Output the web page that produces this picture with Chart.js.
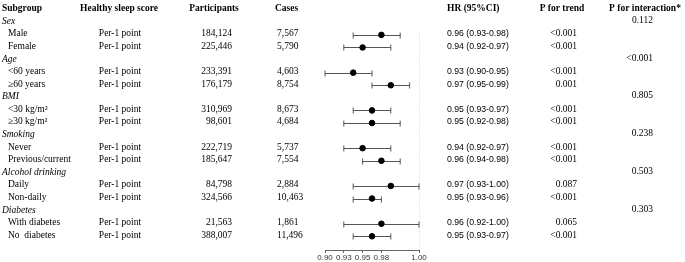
<!DOCTYPE html>
<html>
<head>
<meta charset="utf-8">
<script src="https://cdn.jsdelivr.net/npm/chart.js@4.4.1/dist/chart.umd.min.js"></script>
<style>
    body { margin: 0; background: #fff; }
    #wrap { width: 685px; height: 262px; }
</style>
</head>
<body>
<div id="wrap"><canvas id="forest" width="685" height="262"></canvas></div>
<script>
// dados
var grupos = ['Sex', 'Age', 'BMI', 'Smoking', 'Alcohol drinking', 'Diabetes'];
var pInteracao = ['0.112', '<0.001', '0.805', '0.238', '0.503', '0.303'];

var subgrupos = ['Male', 'Female', '<60 years', '≥60 years', '<30 kg/m²', '≥30 kg/m²',
    'Never', 'Previous/current', 'Daily', 'Non-daily', 'With diabetes', 'No  diabetes'];
var grupoDoSubgrupo = [0, 0, 1, 1, 2, 2, 3, 3, 4, 4, 5, 5];
var escore = ['Per-1 point', 'Per-1 point', 'Per-1 point', 'Per-1 point', 'Per-1 point', 'Per-1 point',
    'Per-1 point', 'Per-1 point', 'Per-1 point', 'Per-1 point', 'Per-1 point', 'Per-1 point'];
var participantes = ['184,124', '225,446', '233,391', '176,179', '310,969', '98,601',
    '222,719', '185,647', '84,798', '324,566', '21,563', '388,007'];
var casos = ['7,567', '5,790', '4,603', '8,754', '8,673', '4,684',
    '5,737', '7,554', '2,884', '10,463', '1,861', '11,496'];
var hr = [0.96, 0.94, 0.93, 0.97, 0.95, 0.95, 0.94, 0.96, 0.97, 0.95, 0.96, 0.95];
var icInferior = [0.93, 0.92, 0.90, 0.95, 0.93, 0.92, 0.92, 0.94, 0.93, 0.93, 0.92, 0.93];
var icSuperior = [0.98, 0.97, 0.95, 0.99, 0.97, 0.98, 0.97, 0.98, 1.00, 0.96, 1.00, 0.97];
var hrTexto = ['0.96 (0.93-0.98)', '0.94 (0.92-0.97)', '0.93 (0.90-0.95)', '0.97 (0.95-0.99)',
    '0.95 (0.93-0.97)', '0.95 (0.92-0.98)', '0.94 (0.92-0.97)', '0.96 (0.94-0.98)',
    '0.97 (0.93-1.00)', '0.95 (0.93-0.96)', '0.96 (0.92-1.00)', '0.95 (0.93-0.97)'];
var pTendencia = ['<0.001', '<0.001', '<0.001', '0.001', '<0.001', '<0.001',
    '<0.001', '<0.001', '0.087', '<0.001', '0.065', '<0.001'];

var ticksValores = [0.90, 0.92, 0.94, 0.96, 1.00];
var ticksRotulos = ['0.90', '0.93', '0.95', '0.98', '1.00'];

// linha de cada grupo / subgrupo na tabela (linha 0 = cabecalho)
var linhaGrupo = [];
var linhaSub = [];
var linha = 1;
for (var g = 0; g < grupos.length; g++) {
    linhaGrupo.push(linha);
    linha++;
    for (var s = 0; s < subgrupos.length; s++) {
        if (grupoDoSubgrupo[s] == g) {
            linhaSub.push(linha);
            linha++;
        }
    }
}

var serif = '"Liberation Serif", "Times New Roman", serif';
var sans = '"Liberation Sans", Arial, sans-serif';

function escrever(ctx, texto, x, y, alinhamento) {
    ctx.textAlign = alinhamento;
    ctx.fillText(texto, x, y);
}

var barrasErro = {
    id: 'barrasErro',
    beforeDatasetsDraw: function (chart) {
        var ctx = chart.ctx;
        var x = chart.scales.x;
        var y = chart.scales.y;
        ctx.save();

        // linha de referencia em HR = 1
        var xRef = Math.round(x.getPixelForValue(1.0)) + 0.5;
        ctx.strokeStyle = '#d4d4d4';
        ctx.lineWidth = 1;
        ctx.setLineDash([1, 2]);
        ctx.beginPath();
        ctx.moveTo(xRef, y.getPixelForValue(1.9));
        ctx.lineTo(xRef, chart.chartArea.bottom);
        ctx.stroke();
        ctx.setLineDash([]);

        ctx.strokeStyle = '#555';
        for (var i = 0; i < hr.length; i++) {
            var x1 = x.getPixelForValue(icInferior[i]);
            var x2 = x.getPixelForValue(icSuperior[i]);
            var yy = Math.round(y.getPixelForValue(linhaSub[i]) + 1) + 0.5;
            ctx.beginPath();
            ctx.moveTo(x1, yy);
            ctx.lineTo(x2, yy);
            ctx.moveTo(x1, yy - 3);
            ctx.lineTo(x1, yy + 3);
            ctx.moveTo(x2, yy - 3);
            ctx.lineTo(x2, yy + 3);
            ctx.stroke();
        }
        ctx.restore();
    }
};

var textoTabela = {
    id: 'textoTabela',
    afterDraw: function (chart) {
        var ctx = chart.ctx;
        var y = chart.scales.y;
        ctx.save();
        ctx.textBaseline = 'middle';
        ctx.fillStyle = '#000';

        var yCab = y.getPixelForValue(0);
        ctx.font = 'bold 9.5px ' + serif;
        escrever(ctx, 'Subgroup', 2, yCab, 'left');
        escrever(ctx, 'Healthy sleep score', 119, yCab, 'center');
        escrever(ctx, 'Participants', 214, yCab, 'center');
        escrever(ctx, 'Cases', 275, yCab, 'left');
        escrever(ctx, 'HR (95%CI)', 447, yCab, 'left');
        escrever(ctx, 'P for trend', 562, yCab, 'center');
        escrever(ctx, 'P for interaction*', 645, yCab, 'center');

        for (var g = 0; g < grupos.length; g++) {
            var yg = y.getPixelForValue(linhaGrupo[g]);
            ctx.font = 'italic 9.5px ' + serif;
            escrever(ctx, grupos[g], 2, yg, 'left');
            ctx.font = '9.5px ' + serif;
            escrever(ctx, pInteracao[g], 653, yg - 1, 'right');
        }

        for (var i = 0; i < subgrupos.length; i++) {
            var ys = y.getPixelForValue(linhaSub[i]);
            ctx.font = '9.5px ' + serif;
            escrever(ctx, subgrupos[i], 8, ys, 'left');
            escrever(ctx, escore[i], 120, ys, 'center');
            escrever(ctx, participantes[i], 232, ys, 'right');
            escrever(ctx, casos[i], 277, ys, 'left');
            escrever(ctx, pTendencia[i], 577, ys, 'right');
            ctx.font = '8.7px ' + sans;
            escrever(ctx, hrTexto[i], 447, ys, 'left');
        }
        ctx.restore();
    }
};

var pontos = [];
for (var i = 0; i < hr.length; i++) {
    pontos.push({ x: hr[i], y: linhaSub[i] + 0.08 });
}

var graficoForest = new Chart(document.getElementById('forest'), {
    type: 'scatter',
    data: {
        datasets: [{
            label: 'HR',
            data: pontos,
            backgroundColor: '#000',
            borderColor: '#000',
            pointRadius: 2.8,
            pointHoverRadius: 2.8
        }]
    },
    options: {
        responsive: false,
        animation: { duration: 0 },
        layout: { padding: { left: 325, right: 266, top: 0, bottom: 0 } },
        plugins: {
            legend: { display: false },
            tooltip: { enabled: false }
        },
        scales: {
            x: {
                type: 'linear',
                position: 'bottom',
                min: 0.90,
                max: 1.00,
                afterBuildTicks: function (scale) {
                    scale.ticks = ticksValores.map(function (v) { return { value: v }; });
                },
                afterFit: function (scale) {
                    scale.height = 12;
                },
                ticks: {
                    autoSkip: false,
                    maxRotation: 0,
                    padding: 0,
                    color: '#333',
                    font: { family: sans, size: 8 },
                    callback: function (valor, indice) {
                        return ticksRotulos[indice];
                    }
                },
                grid: {
                    drawOnChartArea: false,
                    drawTicks: true,
                    tickLength: 3,
                    color: '#666'
                },
                border: { display: true, color: '#666' }
            },
            y: {
                type: 'linear',
                display: false,
                reverse: true,
                min: -0.39,
                max: 19.17
            }
        }
    },
    plugins: [barrasErro, textoTabela]
});
</script>
</body>
</html>
